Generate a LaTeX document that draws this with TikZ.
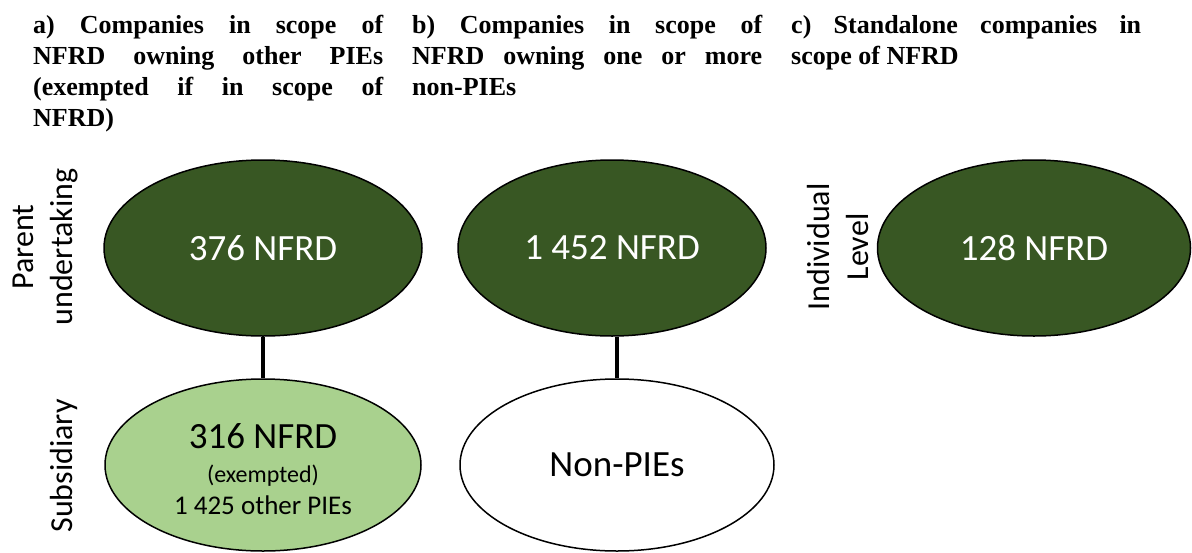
\documentclass[tikz,border=0pt]{standalone}
\usepackage{fontspec}
\setmainfont{Carlito}
\newfontfamily\tnrfont{Liberation Serif}
\usetikzlibrary{shapes.geometric}
\definecolor{darkgreen}{HTML}{385723}
\definecolor{lightgreen}{HTML}{A9D18E}
\tolerance=10000
\hbadness=10000
\begin{document}
\begin{tikzpicture}[x=1pt,y=-1pt,
  title/.style={anchor=base west, inner sep=0pt, text width=350pt, align=justify,
    font=\tnrfont\bfseries\fontsize{26}{31}\selectfont},
  ell/.style={ellipse, draw=black, line width=1.5pt, inner sep=0pt,
    minimum width=316pt, minimum height=176pt, font=\fontsize{37}{44}\selectfont},
  dark/.style={ell, fill=darkgreen, text=white},
  side/.style={rotate=90, inner sep=0pt, align=center, font=\fontsize{32}{39}\selectfont},
  subtext/.style={anchor=base, inner sep=0pt},
  link/.style={line width=4pt}]
\fill[white] (0,0) rectangle (1192,552);
\useasboundingbox (0,0) rectangle (1192,552);

% titles
\node[title] (ta) at (33,33) {a) Companies in scope of\linebreak NFRD owning other PIEs\linebreak (exempted if in scope of\linebreak NFRD)};
\node[title] (tb) at (412,33) {b) Companies in scope of\linebreak NFRD owning one or more\linebreak non-PIEs};
\node[title] (tc) at (791,33) {c) Standalone companies in\linebreak scope of NFRD};

% ellipses
\node[dark, minimum width=318pt] (atop) at (263,248) {376 NFRD};
\node[ell, fill=lightgreen, minimum height=172pt] (abot) at (263,465) {};
\node[dark, minimum width=308pt] (btop) at (612,248) {1 452 NFRD};
\node[ell, fill=white, minimum width=314pt, minimum height=172pt] (bbot) at (617,465) {Non-PIEs};
\node[dark, minimum width=313pt] (ctop) at (1034,248) {128 NFRD};

% subsidiary text
\node[subtext, font=\fontsize{37}{44}\selectfont] (s1) at (263,448) {316 NFRD};
\node[subtext, font=\fontsize{24}{29}\selectfont] (s2) at (263,482) {(exempted)};
\node[subtext, font=\fontsize{27}{32}\selectfont] (s3) at (263,514) {1 425 other PIEs};

% side labels
\node[side] (lpar) at (45,247) {Parent\\undertaking};
\node[side, anchor=base] (lsub) at (72,466) {Subsidiary};
\node[side] (lind) at (838,247) {Individual\\Level};

% connectors
\draw[link] (atop.south) -- (abot.north);
\draw[link] (bbot.north |- btop.south) -- (bbot.north);
\end{tikzpicture}
\end{document}
